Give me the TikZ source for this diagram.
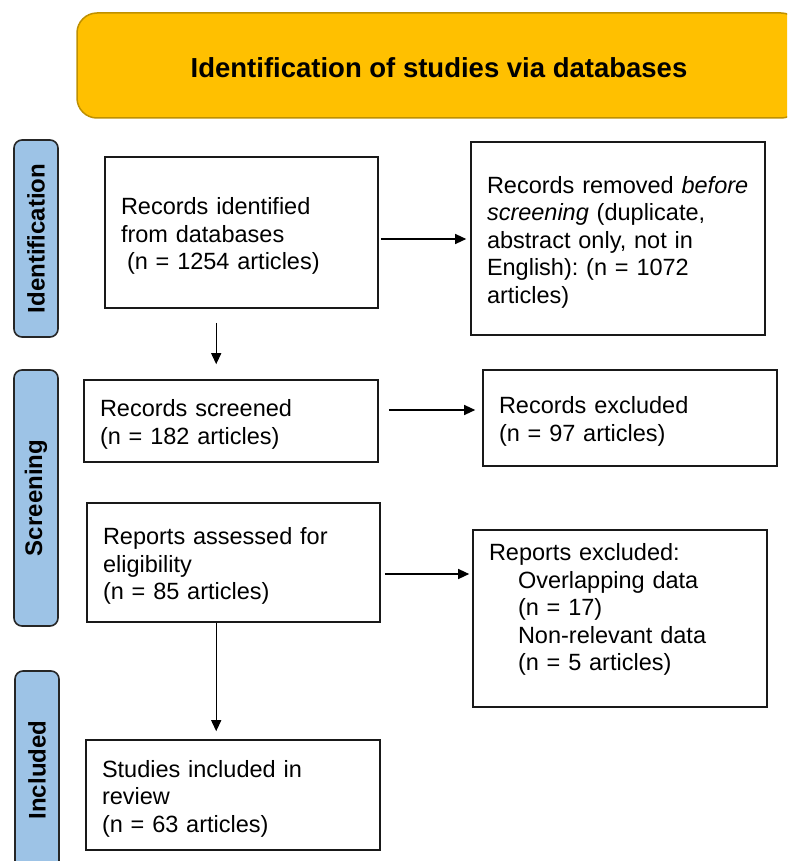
\documentclass[tikz,border=0pt]{standalone}
\usepackage{fontspec}
\setmainfont{Liberation Sans}
\usepackage{xcolor}
\usepackage{tikz}
\usetikzlibrary{arrows.meta,positioning}

\definecolor{headgold}{HTML}{FFC000}
\definecolor{headedge}{HTML}{BF9000}
\definecolor{stageblue}{HTML}{9DC3E6}

\begin{document}
\frenchspacing
\begin{tikzpicture}[x=1pt,y=-1pt, every node/.style={font=\fontsize{23.5}{27.5}\selectfont},
  flowbox/.style={draw=black!90,line width=1.6pt,align=left,inner xsep=16pt,inner ysep=0pt,execute at begin node=\rule{0pt}{24pt}},
  stage/.style={draw=black!85,line width=1.6pt,rounded corners=8pt,fill=stageblue,rotate=90,minimum height=44pt,font=\fontsize{24}{28}\selectfont\bfseries},
  arr/.style={-{Triangle[length=11pt,width=10pt]},line width=1.2pt}]
\clip (0,0) rectangle (787,861);
\node[draw=headedge,line width=1.5pt,rounded corners=20pt,fill=headgold,minimum width=724pt,minimum height=105pt,font=\fontsize{27.5}{31}\selectfont\bfseries] (head) at (439,65.5) {\rule{0pt}{24pt}Identification of studies via databases};
\node[stage,minimum width=197pt] (idstage) at (36,238.5) {Identification};
\node[stage,minimum width=256pt] (scrstage) at (36,498) {Screening};
\node[stage,minimum width=198pt] (incstage) at (37,770) {Included};
\node[flowbox,text width=241pt,minimum width=273pt,minimum height=151pt] (found) at (241.5,232.5) {Records identified\\from databases\\\hspace*{6pt}(n = 1254 articles)};
\node[flowbox,text width=262pt,minimum width=294pt,minimum height=193pt] (removed) at (618,238.5) {Records removed \textit{before}\\\textit{screening} (duplicate,\\abstract only, not in\\English): (n = 1072\\articles)};
\node[flowbox,text width=262pt,minimum width=294pt,minimum height=82pt] (screened) at (231,421) {Records screened\\(n = 182 articles)};
\node[flowbox,text width=262pt,minimum width=294pt,minimum height=96pt] (excluded) at (630,418) {Records excluded\\(n = 97 articles)};
\node[flowbox,text width=261pt,minimum width=293pt,minimum height=119pt] (assessed) at (233.5,562.5) {Reports assessed for\\eligibility\\(n = 85 articles)};
\node[flowbox,text width=262pt,minimum width=294pt,minimum height=177pt] (dropped) at (620,618.5) {Reports excluded:\\\hspace*{29pt}Overlapping data\\\hspace*{29pt}(n = 17)\\\hspace*{29pt}Non-relevant data\\\hspace*{29pt}(n = 5 articles)\rule[-30pt]{0pt}{0pt}};
\node[flowbox,text width=262pt,minimum width=294pt,minimum height=110pt] (included) at (233,795) {Studies included in\\review\\(n = 63 articles)};
% arrows
\draw[arr,shorten <=2pt,shorten >=4pt] ([yshift=-6.5pt]found.east) -- ([yshift=-6.5pt]found.east -| removed.west);
\draw[arr,shorten <=14pt,shorten >=15pt] ([xshift=112pt]found.south west) -- ([xshift=112pt]found.south west |- screened.north);
\draw[arr,shorten <=10pt,shorten >=7pt] ([yshift=11pt]screened.east) -- ([yshift=11pt]screened.east -| excluded.west);
\draw[arr,shorten <=4pt,shorten >=3pt] ([yshift=-11.5pt]assessed.east) -- ([yshift=-11.5pt]assessed.east -| dropped.west);
\draw[arr,shorten >=8pt] ([xshift=130pt]assessed.south west) -- ([xshift=130pt]assessed.south west |- included.north);
\end{tikzpicture}
\end{document}
